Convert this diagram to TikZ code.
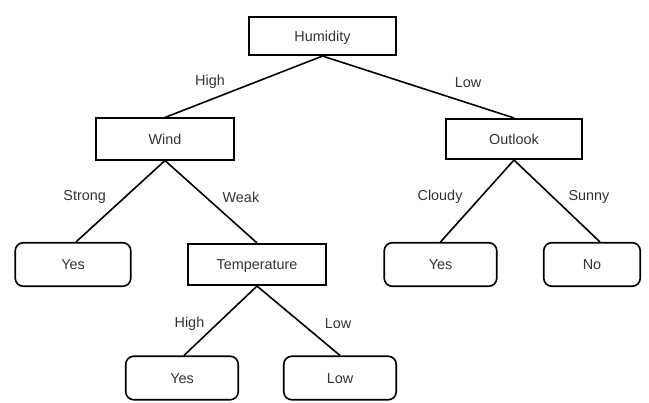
\documentclass[tikz,border=0pt]{standalone}
\usepackage{fontspec}
\setmainfont{Liberation Sans}
\usepackage{tikz}

\tikzset{
  dec/.style={rectangle, draw, line width=1.6pt, minimum width=138.5pt, minimum height=41.5pt, text height=10.3pt, text depth=0pt},
  leaf/.style={rectangle, draw, rounded corners=8pt, line width=1.6pt, minimum width=112.5pt, minimum height=43.5pt, text height=10.3pt, text depth=0pt},
  lbl/.style={inner sep=0pt}
}

\begin{document}
\begin{tikzpicture}[x=1pt, y=1pt, font=\fontsize{14.4}{17}\selectfont, text=black!80,
  edge from parent/.style={draw, line width=1.6pt},
  edge from parent path={(\tikzparentnode.south) -- (\tikzchildnode.north)},
  level 1/.style={level distance=103pt},
  level 2/.style={level distance=125.5pt, sibling distance=184pt},
  level 3/.style={level distance=113.5pt, sibling distance=158pt}]
\useasboundingbox (0,0) rectangle (649,-403);
\node [dec, minimum width=147.5pt, minimum height=38.5pt] (hum) at (322.5,-36) {Humidity}
	child[sibling distance=315pt] {node [dec] (wind) {Wind}
		child[edge from parent path={(\tikzparentnode.south) -- ([xshift=3pt]\tikzchildnode.north)}] {node [leaf, minimum width=115.5pt] (yes1) {Yes}
			edge from parent node [lbl, pos=.451, xshift=-40.2pt] (strong) {Strong}
		}
		child {node [dec] (temp) {Temperature}
			child[sibling distance=150pt, edge from parent path={(\tikzparentnode.south) -- ([xshift=2pt]\tikzchildnode.north)}] {node [leaf] (yes3) {Yes}
				edge from parent node [lbl, pos=.543, xshift=-27.9pt] (high2) {High}
			}
			child[sibling distance=166pt] {node [leaf] (low) {Low}
				edge from parent node [lbl, pos=.543, xshift=35.9pt] (low2) {Low}
			}
			edge from parent node [lbl, pos=.446, xshift=34.9pt] (weak) {Weak}
		}
		edge from parent node [lbl, pos=.426, xshift=-45.4pt] (high1) {High}
	}
	child[sibling distance=383pt] {node [dec, minimum width=136.5pt, minimum height=40.5pt] (out) {Outlook}
		child[sibling distance=147pt] {node [leaf] (yes2) {Yes}
			edge from parent node [lbl, pos=.451, xshift=-40.8pt] (cloudy) {Cloudy}
		}
		child[sibling distance=156pt, edge from parent path={(\tikzparentnode.south) -- ([xshift=8pt]\tikzchildnode.north)}] {node [leaf, minimum width=96.5pt] (no) {No}
			edge from parent node [lbl, pos=.451, xshift=36.2pt] (sunny) {Sunny}
		}
		edge from parent node [lbl, pos=.435, xshift=62.2pt] (low1) {Low}
	}
;
\end{tikzpicture}
\end{document}
